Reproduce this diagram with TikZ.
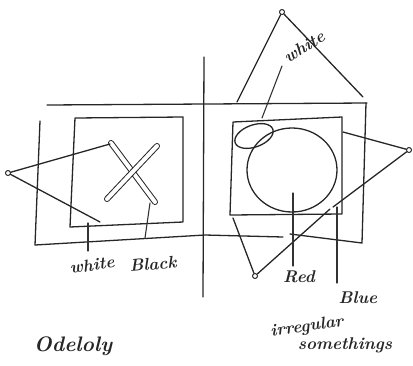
\documentclass[tikz,border=0pt]{standalone}
\usepackage{amsmath}

\begin{document}
\begin{tikzpicture}[
    x=1pt, y=-1pt,
    stroke/.style={line width=1.3pt, draw=black!85, line join=round, line cap=round},
    leader/.style={line width=1.1pt, draw=black!80, line cap=round},
    tip/.style={circle, draw=black!85, line width=1pt, minimum size=5pt, inner sep=0pt},
    lbl/.style={font=\fontsize{17}{19}\selectfont\bfseries\itshape, text=black!85, inner sep=0pt},
    crossarm/.style={line width=1pt, draw=black!85, double=white, double distance=4pt, line cap=round}
]
\useasboundingbox (0,0) rectangle (413,365);

% Separateur et grands cadres
\draw[stroke] (204,57) -- (203,297);
\draw[stroke] (47,105) -- (367,103);
\draw[stroke] (40,121) -- (35,245) -- (205,235) -- (283,237);
\draw[stroke] (290,234) -- (362,243) -- (366,103);

% Cadres interieurs
\draw[stroke] (75,118) -- (183,117) -- (183,222) -- (70,227) -- cycle;
\draw[stroke] (233,122) -- (342,117) -- (342,214) -- (230,215) -- cycle;

% Croix
\draw[crossarm] (111,143) -- (155,202);
\draw[crossarm] (157,146) -- (107,199);

% Cercles
\draw[stroke] (292,170) circle[x radius=45, y radius=42];
\draw[stroke, rotate around={20:(254,136)}] (254,136) circle[x radius=20, y radius=11];

% Pointes
\node[tip] (ltip) at (8,173) {};
\node[tip] (ttip) at (282,12) {};
\node[tip] (rtip) at (409,150) {};
\node[tip] (btip) at (255,276) {};

\coordinate (l1) at (110,144);
\coordinate (l2) at (100,222);
\coordinate (t1) at (237,102);
\coordinate (t2) at (363,97);
\coordinate (r1) at (343,132);
\coordinate (r2) at (333,207);
\coordinate (b1) at (233,218);
\coordinate (b2) at (330,209);

\draw[stroke] (l1) -- (ltip) -- (l2);
\draw[stroke] (t1) -- (ttip) -- (t2);
\draw[stroke] (r1) -- (rtip) -- (r2);
\draw[stroke] (b1) -- (btip) -- (b2);

% Etiquettes
\node[lbl, rotate=8] (lwhite) at (92,265) {white};
\node[lbl, rotate=5] (black) at (153,264) {Black};
\node[lbl, font=\fontsize{21}{23}\selectfont\bfseries\itshape] (odel) at (73,346) {Odeloly};
\node[lbl, rotate=32] (twhite) at (304,47) {white};
\node[lbl] (red) at (299,277) {Red};
\node[lbl] (blue) at (358,298) {Blue};
\node[lbl, rotate=8] (irreg) at (307,327) {irregular};
\node[lbl] (some) at (345,345) {somethings};

\coordinate (lw0) at (88,223);
\coordinate (bk0) at (150,203);
\coordinate (tw0) at (262,118);
\coordinate (rd0) at (293,193);
\coordinate (bl0) at (337,207);

\draw[leader] (lw0) -- (88,251);
\draw[leader] (bk0) -- (145,238);
\draw[leader] (tw0) -- (282,66);
\draw[leader] (rd0) -- (293,266);
\draw[leader] (bl0) -- (337,283);

\end{tikzpicture}
\end{document}
